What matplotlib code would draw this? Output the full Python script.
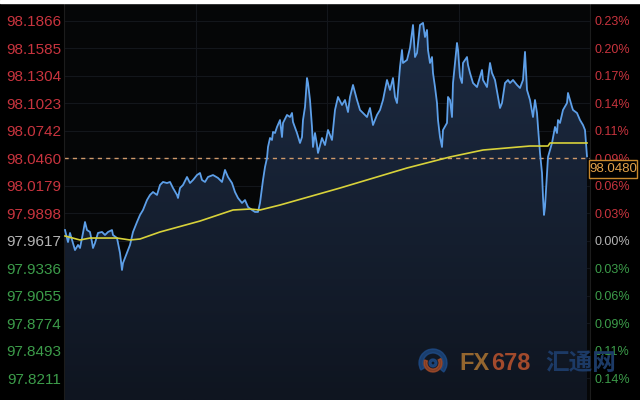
import numpy as np
import matplotlib
matplotlib.use('Agg')
import matplotlib.pyplot as plt
from matplotlib.patches import Rectangle, Wedge
from matplotlib.colors import LinearSegmentedColormap

plt.rcParams['font.family'] = ['Liberation Sans', 'Noto Sans CJK SC', 'DejaVu Sans']

# intraday steps and prices
t = [1, 4, 6, 9, 11, 14, 16, 19, 21, 23,
     26, 28, 29, 31, 34, 38, 41, 44, 48, 49,
     53, 56, 58, 59, 61, 64, 66, 69, 73, 76,
     79, 83, 86, 89, 93, 96, 99, 103, 106, 109,
     113, 114, 116, 119, 123, 126, 129, 133, 136, 138,
     141, 144, 149, 154, 158, 161, 164, 168, 171, 174,
     178, 181, 184, 188, 191, 194, 196, 199, 201, 203,
     204, 206, 208, 209, 211, 213, 216, 218, 219, 223,
     226, 228, 229, 233, 236, 238, 239, 241, 243, 244,
     246, 248, 249, 251, 253, 254, 258, 261, 264, 268,
     271, 274, 278, 281, 284, 286, 289, 293, 296, 299,
     303, 306, 309, 313, 316, 319, 323, 326, 329, 331,
     333, 336, 338, 339, 343, 346, 349, 351, 353, 356,
     359, 361, 363, 364, 366, 368, 369, 371, 373, 374,
     376, 378, 379, 383, 384, 386, 388, 389, 393, 394,
     396, 398, 399, 403, 404, 406, 409, 413, 416, 418,
     419, 423, 426, 428, 431, 434, 436, 438, 441, 444,
     446, 449, 453, 456, 459, 461, 463, 466, 469, 471,
     473, 474, 476, 478, 479, 480, 481, 483, 484, 488,
     491, 493, 494, 496, 499, 503, 504, 506, 508, 509,
     513, 516, 519, 521, 523]
price = [97.9726, 97.9603, 97.9696, 97.9593, 97.9521, 97.9573, 97.9542, 97.9696, 97.9808, 97.9726,
         97.9706, 97.9603, 97.9542, 97.9593, 97.9696, 97.9706, 97.9675, 97.9706, 97.9726, 97.9675,
         97.9644, 97.9491, 97.9317, 97.9388, 97.9440, 97.9521, 97.9573, 97.9706, 97.9808, 97.9880,
         97.9931, 98.0033, 98.0085, 98.0115, 98.0085, 98.0187, 98.0218, 98.0207, 98.0218, 98.0156,
         98.0085, 98.0054, 98.0156, 98.0187, 98.0269, 98.0207, 98.0238, 98.0289, 98.0310, 98.0238,
         98.0218, 98.0269, 98.0289, 98.0259, 98.0218, 98.0341, 98.0269, 98.0207, 98.0115, 98.0054,
         98.0003, 98.0033, 97.9962, 97.9931, 97.9911, 97.9911, 98.0003, 98.0238, 98.0371, 98.0463,
         98.0576, 98.0668, 98.0648, 98.0730, 98.0719, 98.0781, 98.0852, 98.0678, 98.0822, 98.0904,
         98.0883, 98.0924, 98.0832, 98.0719, 98.0617, 98.0678, 98.0852, 98.0986, 98.1282, 98.1231,
         98.1057, 98.0781, 98.0576, 98.0719, 98.0596, 98.0515, 98.0668, 98.0596, 98.0750, 98.0648,
         98.0955, 98.1088, 98.1006, 98.1057, 98.0934, 98.1088, 98.1211, 98.1057, 98.0955, 98.0924,
         98.0883, 98.0975, 98.0801, 98.0904, 98.0955, 98.1057, 98.1262, 98.1160, 98.1282, 98.1088,
         98.1026, 98.1395, 98.1569, 98.1436, 98.1467, 98.1590, 98.1825, 98.1497, 98.1538, 98.1825,
         98.1846, 98.1702, 98.1774, 98.1569, 98.1436, 98.1497, 98.1334, 98.1190, 98.1026, 98.0852,
         98.0678, 98.0576, 98.0750, 98.0822, 98.1088, 98.1057, 98.0883, 98.1231, 98.1641, 98.1569,
         98.1293, 98.1231, 98.1436, 98.1497, 98.1416, 98.1334, 98.1231, 98.1190, 98.1293, 98.1364,
         98.1262, 98.1190, 98.1436, 98.1334, 98.1262, 98.1088, 98.0975, 98.1026, 98.1231, 98.1262,
         98.1231, 98.1262, 98.1211, 98.1180, 98.1262, 98.1549, 98.1160, 98.1057, 98.0883, 98.1057,
         98.0924, 98.0781, 98.0515, 98.0310, 98.0064, 97.9880, 97.9962, 98.0310, 98.0474, 98.0617,
         98.0781, 98.0719, 98.0852, 98.0822, 98.0955, 98.1026, 98.1129, 98.1057, 98.0986, 98.0955,
         98.0924, 98.0852, 98.0801, 98.0750, 98.0480]

# average price line
avg_t = [1, 16, 26, 53, 66, 76, 96, 136, 169, 186, 196, 216, 276, 343, 386, 419, 466, 484, 486, 523]
avg_price = [97.9665, 97.9624, 97.9644, 97.9644, 97.9624, 97.9634, 97.9706, 97.9818, 97.9931, 97.9941,
             97.9931, 97.9982, 98.0156, 98.0361, 98.0474, 98.0545, 98.0586, 98.0586, 98.0617, 98.0617]

left_ticks = [98.1866, 98.1585, 98.1304, 98.1023, 98.0742, 98.0460, 98.0179,
              97.9898, 97.9617, 97.9336, 97.9055, 97.8774, 97.8493, 97.8211]
prev_close = 97.9617
dash_level = 98.0460
t_end = 526
grid_t = [131.5, 263, 394.5]
y_lo, y_hi = 97.7986, 98.2050

RED = '#c8343e'
GREEN = '#3c9c4a'
GREY = '#b4b4b4'

def tick_color(v):
    if abs(v - prev_close) < 1e-6:
        return GREY
    return RED if v > prev_close else GREEN

fig = plt.figure(figsize=(6.4, 4), dpi=100, facecolor='black')
ax = fig.add_axes([64/640, 0, 526/640, 397/400])
ax.set_facecolor('#050607')
ax.set_xlim(0, t_end)
ax.set_ylim(y_lo, y_hi)

# gradient fill under the price line
poly = ax.fill_between(t, price, y_lo, color='none', lw=0)
grad = np.linspace(0, 1, 256).reshape(-1, 1)
cmap = LinearSegmentedColormap.from_list('fill', ['#0f1520', '#1d2c44'])
im = ax.imshow(grad, extent=[0, t_end, y_lo, y_hi], origin='lower', cmap=cmap,
               aspect='auto', zorder=1)
im.set_clip_path(poly.get_paths()[0], transform=ax.transData)

ax.axhline(dash_level, color='#d09a6a', lw=1, dashes=(3, 3), zorder=2.5)
ax.plot(t, price, color='#5d9fe8', lw=1.3, zorder=3)
ax.plot(avg_t, avg_price, color='#d8d23a', lw=1.2, zorder=4)

ax.set_yticks(left_ticks)
ax.set_yticklabels(['%.4f' % v for v in left_ticks])
for lab, v in zip(ax.get_yticklabels(), left_ticks):
    lab.set_color(tick_color(v))
ax.set_xticks(grid_t)
ax.set_xticklabels([])
ax.tick_params(axis='both', length=0)
ax.tick_params(axis='y', pad=2, labelsize=11)
ax.grid(True, color='#13161b', lw=0.8, zorder=0)
ax.set_axisbelow(True)
for s in ['top', 'bottom']:
    ax.spines[s].set_visible(False)
for s in ['left', 'right']:
    ax.spines[s].set_color('#1c1c1c')

ax2 = ax.twinx()
ax2.set_ylim(y_lo, y_hi)
ax2.set_yticks(left_ticks)
ax2.set_yticklabels(['%.2f%%' % abs((v - prev_close) / prev_close * 100) for v in left_ticks])
for lab, v in zip(ax2.get_yticklabels(), left_ticks):
    lab.set_color(tick_color(v))
ax2.tick_params(axis='y', length=0, pad=3, labelsize=9)
for s in ax2.spines.values():
    s.set_visible(False)

# overlay in pixel units for the price box and watermark
ov = fig.add_axes([0, 0, 1, 1])
ov.set_xlim(0, 640)
ov.set_ylim(400, 0)
ov.axis('off')
ov.patch.set_alpha(0)
ov.add_patch(Rectangle((0, 0), 640, 3, color='white'))
ov.add_patch(Rectangle((589, 160), 48, 18, fc='black', ec='#c8892c', lw=1))
ov.text(613, 169.5, '%.4f' % price[-1], color='#e3a24a', fontsize=9.5,
        ha='center', va='center')

# watermark
ov.add_patch(Wedge((433, 363), 14, 150, 40, width=4, color='#1f4f8e', alpha=0.7))
ov.add_patch(Wedge((433, 363), 9, 330, 200, width=3, color='#b0502a', alpha=0.7))
ov.add_patch(Wedge((433, 363), 4, 0, 360, width=2, color='#1f4f8e', alpha=0.7))
ov.text(459, 364, 'FX', color='#94662f', fontsize=17, fontweight='bold',
        ha='left', va='center')
ov.text(491, 364, '678', color='#a24a2c', fontsize=17, fontweight='bold',
        ha='left', va='center')
ov.text(545, 363, '汇通网', color='#1c3a66', fontsize=17, fontweight='bold',
        ha='left', va='center', family=['Noto Sans CJK SC', 'DejaVu Sans'])

plt.savefig('out.png', dpi=100, facecolor='black')
plt.close()
